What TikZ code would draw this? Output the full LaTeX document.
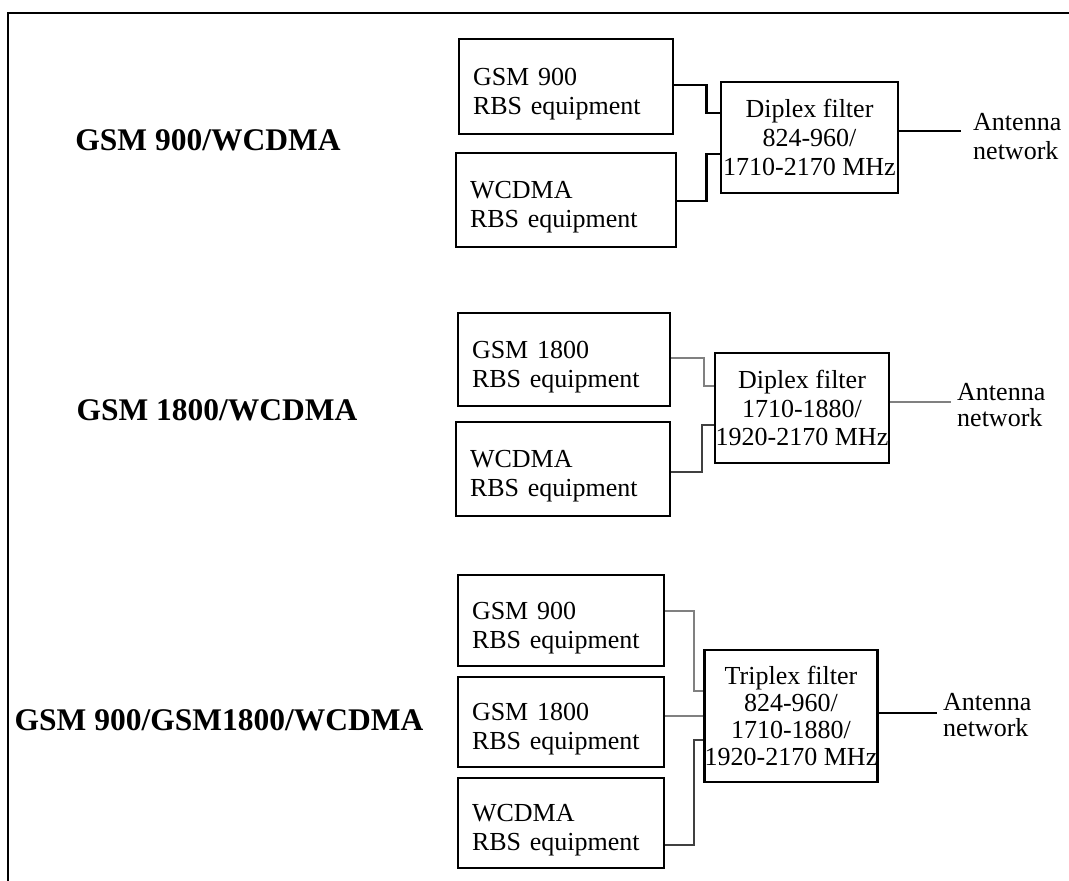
\documentclass[tikz,border=0pt]{standalone}
\usepackage{fontspec}
\setmainfont{Liberation Serif}
\newcommand{\tp}{\rule{0pt}{32pt}}
\begin{document}
\begin{tikzpicture}[x=1pt,y=1pt,
  every node/.style={font=\fontsize{26}{29}\selectfont},
  rbs/.style={draw, line width=2.6pt, align=left, inner xsep=14pt, inner ysep=0pt},
  filt/.style={draw, line width=2.6pt, align=center, inner sep=0pt},
  title/.style={font=\fontsize{31.5}{36}\selectfont\bfseries},
  ant/.style={anchor=west, align=left, inner ysep=0pt},
  wire/.style={line width=2.5pt},
  lwire/.style={line width=2pt, black!50},
  mwire/.style={line width=2.3pt, black!75}]
\useasboundingbox (0,0) rectangle (1069,-881);
% frame
\draw[line width=2.5pt] (8,-881) -- (8,-13) -- (1069,-13);

% ---------- Section 1 ----------
\node[title] (t1) at (208,-140) {GSM 900/WCDMA};
\node[rbs, text width=186pt, minimum height=95pt] (a1) at (566,-86.5) {\tp GSM 900\\RBS equipment};
\node[rbs, text width=192pt, minimum height=94pt] (a2) at (566,-200) {\tp WCDMA\\RBS equipment};
\node[filt, minimum width=177pt, minimum height=111pt] (f1) at (809.5,-137.5) {Diplex filter\\824-960/\\1710-2170 MHz};
\node[ant, inner xsep=12pt] (n1) at (961,-137) {Antenna\\network};
\draw[wire] ([yshift=1.5pt]a1.east) -- ++(32,0) |- ([yshift=24.5pt]f1.west);
\draw[wire] ([yshift=-1pt]a2.east) -- ++(29,0) |- ([yshift=-16.5pt]f1.west);
\draw[wire] ([yshift=6.5pt]f1.east) -- ([yshift=6.5pt]f1.east -| n1.west);

% ---------- Section 2 ----------
\node[title] (t2) at (217,-410) {GSM 1800/WCDMA};
\node[rbs, text width=184pt, minimum height=93pt] (b1) at (564,-359.5) {\tp GSM 1800\\RBS equipment};
\node[rbs, text width=186pt, minimum height=94pt] (b2) at (563,-469) {\tp WCDMA\\RBS equipment};
\node[filt, minimum width=174pt, minimum height=110pt, font=\fontsize{26}{28.5}\selectfont] (f2) at (802,-408) {Diplex filter\\1710-1880/\\1920-2170 MHz};
\node[ant, inner xsep=6pt, font=\fontsize{26}{26.5}\selectfont] (n2) at (951,-405) {Antenna\\network};
\draw[lwire] ([yshift=1.5pt]b1.east) -- ++(33,0) |- ([yshift=22pt]f2.west);
\draw[mwire] ([yshift=-3pt]b2.east) -- ++(31,0) |- ([yshift=-17pt]f2.west);
\draw[lwire] ([yshift=6pt]f2.east) -- ([yshift=6pt]f2.east -| n2.west);

% ---------- Section 3 ----------
\node[title] (t3) at (219,-720) {GSM 900/GSM1800/WCDMA};
\node[rbs, text width=178pt, minimum height=91pt] (c1) at (561,-620.5) {\tp GSM 900\\RBS equipment};
\node[rbs, text width=178pt, minimum height=90pt] (c2) at (561,-722) {\tp GSM 1800\\RBS equipment};
\node[rbs, text width=178pt, minimum height=90pt] (c3) at (561,-823) {\tp WCDMA\\RBS equipment};
\node[filt, minimum width=168pt, minimum height=132pt, font=\fontsize{26}{27.3}\selectfont] (f3) at (791,-716) {Triplex filter\\824-960/\\1710-1880/\\1920-2170 MHz};
\node[ant, inner xsep=6pt, font=\fontsize{26}{26.5}\selectfont] (n3) at (937,-715) {Antenna\\network};
\draw[lwire] ([yshift=10pt]c1.east) -- ++(29,0) |- ([yshift=25pt]f3.west);
\draw[lwire] (f3.west) -- (f3.west -| c2.east);
\draw[mwire] ([yshift=-22pt]c3.east) -- ++(29,0) |- ([yshift=-24pt]f3.west);
\draw[wire] ([yshift=3pt]f3.east) -- ([yshift=3pt]f3.east -| n3.west);
\end{tikzpicture}
\end{document}
